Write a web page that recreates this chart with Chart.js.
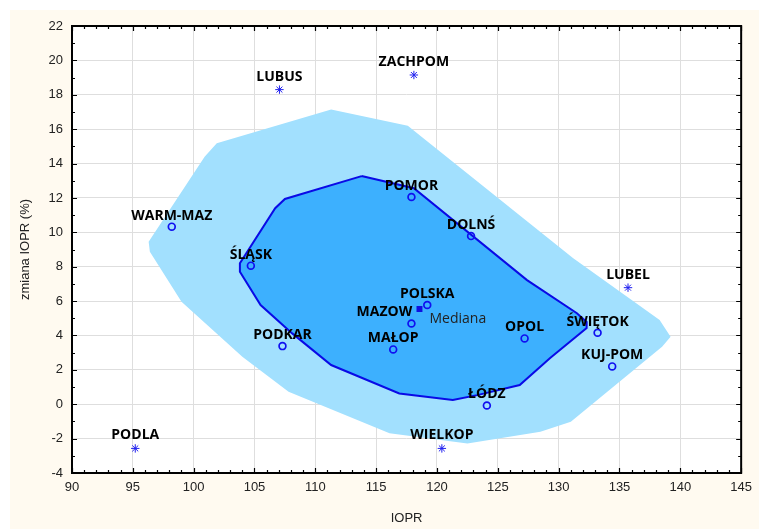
<!DOCTYPE html>
<html>
<head>
<meta charset="utf-8">
<script src="https://cdn.jsdelivr.net/npm/chart.js@4"></script>
<style>
  html, body { margin: 0; padding: 0; background: #ffffff; }
  #wrap { width: 759px; height: 529px; }
</style>
</head>
<body>
<div id="wrap"><canvas id="chart" width="759" height="529"></canvas></div>
<script>
// Regions (within the bag)
const regionNames = ['WARM-MAZ', 'ŚLĄSK', 'POMOR', 'DOLNŚ', 'POLSKA', 'MAZOW', 'MAŁOP', 'PODKAR', 'OPOL', 'ŚWIĘTOK', 'KUJ-POM', 'ŁÓDZ'];
const regionX = [98.2, 104.7, 117.9, 122.8, 119.2, 117.9, 116.4, 107.3, 127.2, 133.2, 134.4, 124.1];
const regionY = [10.33, 8.06, 12.05, 9.78, 5.77, 4.7, 3.19, 3.38, 3.83, 4.16, 2.2, -0.07];

// Outliers (outside the fence)
const outlierNames = ['LUBUS', 'ZACHPOM', 'LUBEL', 'PODLA', 'WIELKOP'];
const outlierX = [107.05, 118.1, 135.7, 95.2, 120.4];
const outlierY = [18.3, 19.15, 6.78, -2.57, -2.57];

// Median
const medianX = [118.56];
const medianY = [5.54];

// Bag polygon (inner)
const bagX = [113.8, 118.1, 127.4, 131.5, 132.3, 132.3, 129.3, 126.8, 123.3, 121.3, 116.9, 111.3, 108.1, 105.5, 103.8, 103.8, 106.7, 107.5];
const bagY = [13.27, 12.56, 7.22, 5.29, 4.78, 4.43, 2.69, 1.12, 0.53, 0.24, 0.63, 2.28, 4.12, 5.77, 7.71, 8.2, 11.4, 11.94];

// Fence polygon (outer)
const fenceX = [111.3, 117.6, 131.2, 138.3, 139.2, 138.5, 131.0, 128.5, 122.5, 116.1, 107.8, 104.0, 99.0, 96.4, 96.3, 100.9, 101.9];
const fenceY = [17.15, 16.2, 8.49, 4.9, 3.93, 3.34, -1.02, -1.6, -2.28, -1.69, 0.73, 2.76, 5.96, 8.87, 9.45, 14.4, 15.18];

// Axis ranges
const xMin = 90, xMax = 145, xStep = 5;
const yMin = -4, yMax = 22, yStep = 2;

const toPoints = (xs, ys) => xs.map((x, i) => ({ x: x, y: ys[i] }));
const closed = (xs, ys) => {
  const pts = toPoints(xs, ys);
  pts.push(pts[0]);
  return pts;
};

// Cream background behind the whole chart
const backgroundPlugin = {
  id: 'cream',
  beforeDraw(chart) {
    const ctx = chart.ctx;
    ctx.save();
    ctx.fillStyle = '#fffaf0';
    ctx.fillRect(10, 10, chart.width - 10, chart.height - 10);
    const a = chart.chartArea;
    ctx.fillStyle = '#ffffff';
    ctx.fillRect(a.left, a.top, a.right - a.left, a.bottom - a.top);
    ctx.restore();
  }
};

// Frame with inward minor ticks on all four sides
const framePlugin = {
  id: 'frame',
  afterDatasetsDraw(chart) {
    const ctx = chart.ctx;
    const a = chart.chartArea;
    const xs = chart.scales.x, ys = chart.scales.y;
    ctx.save();
    ctx.strokeStyle = '#000000';
    ctx.lineWidth = 1.2;
    ctx.beginPath();
    for (let v = xMin; v <= xMax; v++) {
      const px = Math.round(xs.getPixelForValue(v)) + 0.5;
      const len = v % xStep === 0 ? 5 : 3;
      ctx.moveTo(px, a.bottom); ctx.lineTo(px, a.bottom - len);
      ctx.moveTo(px, a.top); ctx.lineTo(px, a.top + len);
    }
    for (let v = yMin; v <= yMax; v++) {
      const py = Math.round(ys.getPixelForValue(v)) + 0.5;
      const len = v % yStep === 0 ? 5 : 3;
      ctx.moveTo(a.left, py); ctx.lineTo(a.left + len, py);
      ctx.moveTo(a.right, py); ctx.lineTo(a.right - len, py);
    }
    ctx.stroke();
    ctx.lineWidth = 2;
    ctx.strokeRect(a.left, a.top, a.right - a.left, a.bottom - a.top);
    ctx.restore();
  }
};

// Region names above their points
const labelPlugin = {
  id: 'names',
  afterDatasetsDraw(chart) {
    const ctx = chart.ctx;
    const xs = chart.scales.x, ys = chart.scales.y;
    ctx.save();
    ctx.font = 'bold 14px "Open Sans"';
    ctx.fillStyle = '#000000';
    ctx.textAlign = 'center';
    ctx.textBaseline = 'middle';
    regionNames.forEach((name, i) => {
      let px = xs.getPixelForValue(regionX[i]);
      const py = ys.getPixelForValue(regionY[i]);
      if (name === 'MAZOW') px -= 27;
      ctx.fillText(name, px, py - 11);
    });
    outlierNames.forEach((name, i) => {
      const px = xs.getPixelForValue(outlierX[i]);
      const py = ys.getPixelForValue(outlierY[i]);
      ctx.fillText(name, px, py - 13);
    });
    ctx.font = '14px "Open Sans"';
    ctx.fillStyle = '#222222';
    ctx.textAlign = 'left';
    ctx.fillText('Mediana',
      xs.getPixelForValue(medianX[0]) + 10,
      ys.getPixelForValue(medianY[0]) + 10);
    ctx.restore();
  }
};

new Chart(document.getElementById('chart'), {
  type: 'scatter',
  data: {
    datasets: [
      {
        label: 'fence',
        data: closed(fenceX, fenceY),
        showLine: true,
        fill: 'shape',
        backgroundColor: '#a2e0fe',
        borderWidth: 0,
        borderColor: 'rgba(0,0,0,0)',
        pointRadius: 0,
        tension: 0,
        order: 5
      },
      {
        label: 'bag',
        data: closed(bagX, bagY),
        showLine: true,
        fill: 'shape',
        backgroundColor: '#3db0fe',
        borderColor: '#0a0ae6',
        borderWidth: 2,
        pointRadius: 0,
        tension: 0,
        order: 4
      },
      {
        label: 'regions',
        data: toPoints(regionX, regionY),
        pointStyle: 'circle',
        pointRadius: 3.4,
        borderWidth: 1.7,
        borderColor: '#1010f0',
        backgroundColor: 'rgba(0,0,0,0)',
        order: 2
      },
      {
        label: 'outliers',
        data: toPoints(outlierX, outlierY),
        pointStyle: 'star',
        pointRadius: 4.2,
        borderWidth: 1,
        borderColor: '#2020f0',
        order: 2
      },
      {
        label: 'median',
        data: toPoints(medianX, medianY),
        pointStyle: 'rect',
        pointRadius: 4.2,
        borderWidth: 0,
        backgroundColor: '#1010e0',
        order: 1
      }
    ]
  },
  options: {
    responsive: false,
    animation: false,
    layout: { padding: { top: 26, right: 13, left: 0, bottom: 0 } },
    plugins: {
      legend: { display: false },
      tooltip: { enabled: false }
    },
    scales: {
      x: {
        type: 'linear',
        min: xMin,
        max: xMax,
        afterFit(scale) { scale.height = 56; },
        ticks: {
          stepSize: xStep,
          padding: 7,
          color: '#222222',
          font: { family: 'Liberation Sans', size: 13 },
          maxRotation: 0
        },
        grid: { color: '#dedede', lineWidth: 1, drawTicks: false },
        border: { display: false },
        title: {
          display: true,
          text: 'IOPR',
          color: '#222222',
          font: { family: 'Liberation Sans', size: 13 },
          padding: { top: 0, bottom: 3 }
        }
      },
      y: {
        type: 'linear',
        min: yMin,
        max: yMax,
        afterFit(scale) { scale.width = 72; },
        ticks: {
          stepSize: yStep,
          padding: 9,
          color: '#222222',
          font: { family: 'Liberation Sans', size: 13 }
        },
        grid: { color: '#dedede', lineWidth: 1, drawTicks: false },
        border: { display: false },
        title: {
          display: true,
          text: 'zmiana IOPR (%)',
          color: '#222222',
          font: { family: 'Liberation Sans', size: 13 },
          padding: { top: 18, bottom: 0 }
        }
      }
    }
  },
  plugins: [backgroundPlugin, framePlugin, labelPlugin]
});
</script>
</body>
</html>
